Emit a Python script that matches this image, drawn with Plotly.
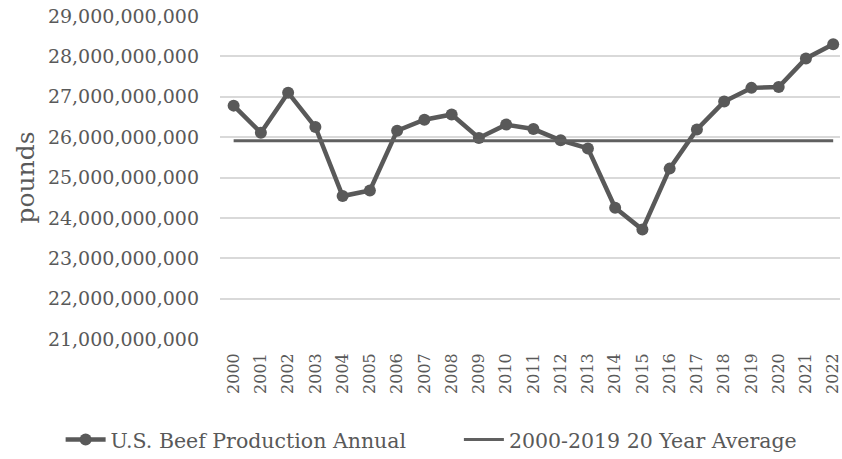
import plotly.graph_objects as go

# U.S. beef production, pounds per year
years = list(range(2000, 2023))
production = [
    26_780_000_000, 26_110_000_000, 27_100_000_000, 26_250_000_000,
    24_540_000_000, 24_680_000_000, 26_160_000_000, 26_430_000_000,
    26_560_000_000, 25_980_000_000, 26_310_000_000, 26_200_000_000,
    25_920_000_000, 25_720_000_000, 24_250_000_000, 23_710_000_000,
    25_220_000_000, 26_190_000_000, 26_880_000_000, 27_220_000_000,
    27_240_000_000, 27_950_000_000, 28_300_000_000,
]
# 2000-2019 average, drawn across the full period
average_value = 25_910_000_000
average = [average_value] * len(years)

y_ticks = [21e9 + i * 1e9 for i in range(9)]

GRAY = "#595959"
FONT = "DejaVu Serif"

fig = go.Figure()
fig.add_trace(go.Scatter(
    x=years, y=production, mode="lines+markers",
    name="U.S. Beef Production Annual",
    line=dict(color=GRAY, width=4.5),
    marker=dict(color=GRAY, size=12),
    legend="legend",
))
fig.add_trace(go.Scatter(
    x=years, y=average, mode="lines",
    name="2000-2019 20 Year Average",
    line=dict(color="#606060", width=3),
    legend="legend2",
))

legend_style = dict(
    orientation="h", xref="container", xanchor="left",
    yref="container", y=0.042, yanchor="middle",
    font=dict(size=20.5, color=GRAY), itemwidth=40,
    bgcolor="rgba(0,0,0,0)",
)

fig.update_layout(
    width=842, height=459,
    margin=dict(l=220, r=0, t=16, b=120),
    paper_bgcolor="white", plot_bgcolor="white",
    font=dict(family=FONT, color=GRAY),
    showlegend=True,
    legend=dict(legend_style, x=0.072),
    legend2=dict(legend_style, x=0.545),
)
fig.update_xaxes(
    range=[1999.5, 2022.25], tickmode="array", tickvals=years,
    ticktext=[str(y) for y in years], tickangle=-90,
    tickfont=dict(size=16, color=GRAY), showgrid=False, zeroline=False,
    showline=False, ticks="", ticklabelstandoff=10,
    ticklabeloverflow="allow",
)
fig.update_yaxes(
    range=[21e9, 29e9], tickmode="array", tickvals=y_ticks, tickformat=",d",
    tickfont=dict(size=19, color=GRAY), showgrid=True, gridcolor="#d9d9d9",
    gridwidth=1.6, zeroline=False, showline=False, ticks="",
    ticklabelstandoff=20,
    title=dict(text="pounds", font=dict(size=25, color=GRAY), standoff=6),
)

fig.write_html("out.html")
